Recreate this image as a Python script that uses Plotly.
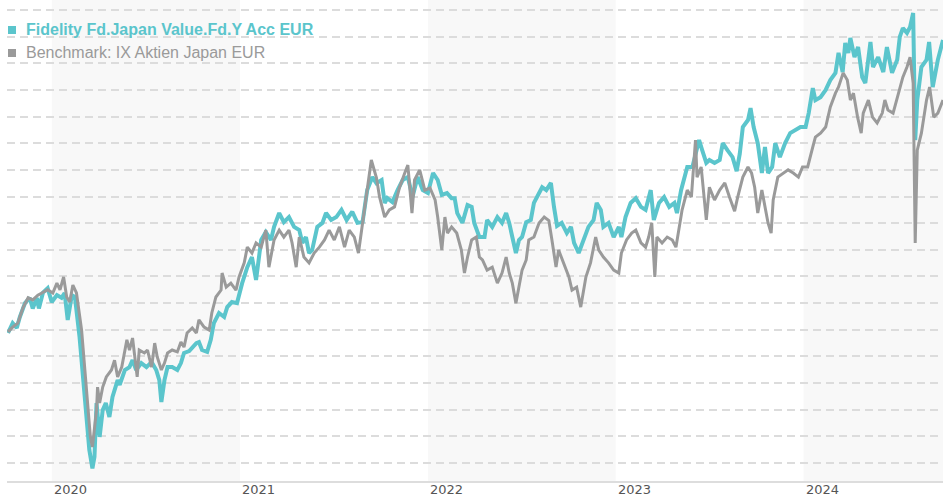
import plotly.graph_objects as go

# ---------------- data (indexed performance) ----------------
fund_name = "Fidelity Fd.Japan Value.Fd.Y Acc EUR"
bench_name = "Benchmark: IX Aktien Japan EUR"

fund_dates = [
    "2019-10-08", "2019-10-17", "2019-10-25", "2019-10-31", "2019-11-10", "2019-11-19", "2019-11-25",
    "2019-12-03", "2019-12-07", "2019-12-15", "2019-12-24", "2020-01-01", "2020-01-11", "2020-01-20",
    "2020-01-26", "2020-02-01", "2020-02-09", "2020-02-15", "2020-02-24", "2020-03-01", "2020-03-08",
    "2020-03-14", "2020-03-20", "2020-03-24", "2020-03-28", "2020-04-03", "2020-04-09", "2020-04-15",
    "2020-04-22", "2020-04-28", "2020-05-08", "2020-05-12", "2020-05-22", "2020-05-31", "2020-06-06",
    "2020-06-13", "2020-06-23", "2020-07-03", "2020-07-13", "2020-07-22", "2020-07-28", "2020-08-01",
    "2020-08-07", "2020-08-13", "2020-08-22", "2020-09-01", "2020-09-08", "2020-09-14", "2020-09-24",
    "2020-10-08", "2020-10-13", "2020-10-19", "2020-10-29", "2020-11-05", "2020-11-11", "2020-11-21",
    "2020-12-01", "2020-12-07", "2020-12-16", "2020-12-26", "2021-01-05", "2021-01-15", "2021-01-24",
    "2021-02-01", "2021-02-11", "2021-02-20", "2021-03-02", "2021-03-08", "2021-03-18", "2021-03-27",
    "2021-04-06", "2021-04-16", "2021-04-26", "2021-05-02", "2021-05-09", "2021-05-15", "2021-05-21",
    "2021-05-31", "2021-06-10", "2021-06-17", "2021-06-27", "2021-07-07", "2021-07-17", "2021-07-27",
    "2021-08-07", "2021-08-17", "2021-08-27", "2021-09-05", "2021-09-15", "2021-09-23", "2021-10-03",
    "2021-10-09", "2021-10-14", "2021-10-24", "2021-11-03", "2021-11-13", "2021-11-23", "2021-12-02",
    "2021-12-12", "2021-12-22", "2022-01-01", "2022-01-11", "2022-01-20", "2022-01-28", "2022-02-07",
    "2022-02-16", "2022-02-22", "2022-02-27", "2022-03-09", "2022-03-19", "2022-03-27", "2022-04-01",
    "2022-04-11", "2022-04-21", "2022-04-26", "2022-05-06", "2022-05-16", "2022-05-25", "2022-06-02",
    "2022-06-08", "2022-06-14", "2022-06-21", "2022-06-27", "2022-07-03", "2022-07-11", "2022-07-20",
    "2022-07-26", "2022-08-01", "2022-08-11", "2022-08-19", "2022-08-28", "2022-09-03", "2022-09-09",
    "2022-09-18", "2022-09-28", "2022-10-06", "2022-10-12", "2022-10-21", "2022-10-31", "2022-11-09",
    "2022-11-19", "2022-11-25", "2022-12-03", "2022-12-08", "2022-12-18", "2022-12-28", "2023-01-07",
    "2023-01-12", "2023-01-20", "2023-01-30", "2023-02-09", "2023-02-19", "2023-02-28", "2023-03-10",
    "2023-03-16", "2023-03-26", "2023-04-05", "2023-04-15", "2023-04-25", "2023-04-30", "2023-05-08",
    "2023-05-14", "2023-05-20", "2023-05-30", "2023-06-07", "2023-06-12", "2023-06-18", "2023-06-26",
    "2023-07-02", "2023-07-12", "2023-07-22", "2023-07-28", "2023-08-06", "2023-08-16", "2023-08-24",
    "2023-08-30", "2023-09-05", "2023-09-15", "2023-09-20", "2023-09-26", "2023-10-04", "2023-10-12",
    "2023-10-18", "2023-10-24", "2023-11-01", "2023-11-07", "2023-11-16", "2023-11-26", "2023-12-06",
    "2023-12-16", "2023-12-26", "2024-01-05", "2024-01-11", "2024-01-19", "2024-01-24", "2024-02-03",
    "2024-02-13", "2024-02-22", "2024-03-03", "2024-03-09", "2024-03-17", "2024-03-22", "2024-03-28",
    "2024-04-01", "2024-04-09", "2024-04-16", "2024-04-24", "2024-04-30", "2024-05-10", "2024-05-15",
    "2024-05-25", "2024-06-04", "2024-06-11", "2024-06-21", "2024-07-01", "2024-07-06", "2024-07-12",
    "2024-07-20", "2024-07-26", "2024-08-01", "2024-08-03", "2024-08-05", "2024-08-09", "2024-08-17",
    "2024-08-27", "2024-09-01", "2024-09-08", "2024-09-18", "2024-09-28",
]
fund_values = [
    98.8, 102.5, 100.7, 104.8, 110.0, 112.0, 108.0,
    112.0, 108.0, 114.0, 115.6, 110.4, 113.0, 112.0,
    113.8, 103.7, 113.0, 112.3, 97.3, 84.9, 69.9,
    54.9, 48.0, 52.3, 72.5, 59.8, 69.9, 72.5,
    67.3, 74.8, 81.1, 79.3, 84.9, 86.0, 88.6,
    84.9, 87.5, 86.0, 87.9, 84.9, 81.1, 72.9,
    81.1, 86.0, 86.0, 84.9, 87.5, 91.3, 92.0,
    95.0, 95.4, 92.4, 91.7, 96.2, 102.5, 106.3,
    104.8, 108.5, 110.4, 110.0, 117.5, 123.5, 127.3,
    118.7, 133.7, 136.7, 133.7, 138.6, 143.8, 140.4,
    142.3, 138.6, 137.4, 132.6, 134.8, 128.8, 129.9,
    138.6, 140.1, 143.8, 141.2, 142.3, 145.0, 141.2,
    144.3, 140.1, 140.4, 152.4, 157.3, 155.0, 156.2,
    147.6, 149.4, 147.9, 152.4, 156.2, 157.3, 149.8,
    157.3, 152.4, 151.3, 158.8, 156.2, 150.6, 151.3,
    149.4, 149.4, 143.8, 140.1, 146.8, 146.1, 140.1,
    134.8, 134.8, 141.2, 138.6, 142.3, 140.1, 143.8,
    140.1, 134.8, 128.8, 133.7, 134.8, 140.4, 141.2,
    147.6, 149.8, 153.5, 152.4, 155.1, 146.1, 139.0,
    140.1, 136.3, 138.6, 132.6, 128.8, 133.7, 138.6,
    141.2, 147.6, 145.0, 138.6, 140.1, 134.8, 138.6,
    134.8, 142.3, 147.6, 149.4, 146.1, 145.0, 152.4,
    141.2, 147.6, 149.8, 146.1, 147.6, 143.8, 152.4,
    156.2, 161.1, 161.1, 167.4, 171.2, 167.4, 162.6,
    163.7, 162.6, 163.7, 170.0, 167.4, 164.8, 159.5,
    166.0, 176.1, 178.7, 183.2, 176.1, 170.0, 158.8,
    168.6, 158.8, 161.1, 170.0, 164.8, 170.0, 173.8,
    174.9, 176.1, 176.1, 181.3, 190.7, 186.2, 187.3,
    190.0, 193.7, 196.4, 203.9, 196.7, 207.6, 203.9,
    209.5, 202.3, 206.1, 194.8, 192.6, 208.0, 198.6,
    202.3, 196.7, 206.1, 196.4, 201.3, 209.9, 213.2,
    211.4, 213.6, 218.9, 198.6, 171.2, 186.2, 198.6,
    201.3, 208.0, 191.1, 201.3, 208.7,
]

bench_dates = [
    "2019-10-08", "2019-10-17", "2019-10-27", "2019-11-06", "2019-11-16", "2019-11-25", "2019-12-05",
    "2019-12-15", "2019-12-24", "2020-01-03", "2020-01-11", "2020-01-17", "2020-01-24", "2020-01-30",
    "2020-02-05", "2020-02-11", "2020-02-18", "2020-02-28", "2020-03-04", "2020-03-10", "2020-03-16",
    "2020-03-20", "2020-03-28", "2020-03-30", "2020-04-03", "2020-04-09", "2020-04-16", "2020-04-26",
    "2020-05-02", "2020-05-08", "2020-05-16", "2020-05-26", "2020-05-31", "2020-06-06", "2020-06-15",
    "2020-06-19", "2020-06-29", "2020-07-05", "2020-07-13", "2020-07-19", "2020-07-24", "2020-08-01",
    "2020-08-07", "2020-08-13", "2020-08-22", "2020-09-01", "2020-09-08", "2020-09-14", "2020-09-20",
    "2020-09-30", "2020-10-08", "2020-10-13", "2020-10-23", "2020-11-02", "2020-11-07", "2020-11-15",
    "2020-11-25", "2020-11-27", "2020-12-05", "2020-12-14", "2020-12-24", "2020-12-30", "2021-01-09",
    "2021-01-15", "2021-01-24", "2021-02-01", "2021-02-11", "2021-02-20", "2021-02-26", "2021-03-08",
    "2021-03-18", "2021-03-27", "2021-04-06", "2021-04-12", "2021-04-20", "2021-04-26", "2021-05-05",
    "2021-05-15", "2021-05-25", "2021-06-04", "2021-06-14", "2021-06-23", "2021-07-03", "2021-07-13",
    "2021-07-23", "2021-08-01", "2021-08-11", "2021-08-19", "2021-08-27", "2021-09-05", "2021-09-13",
    "2021-09-23", "2021-09-29", "2021-10-09", "2021-10-18", "2021-10-28", "2021-11-07", "2021-11-17",
    "2021-11-23", "2021-12-01", "2021-12-06", "2021-12-16", "2021-12-26", "2022-01-05", "2022-01-15",
    "2022-01-20", "2022-01-28", "2022-02-03", "2022-02-08", "2022-02-16", "2022-02-26", "2022-03-07",
    "2022-03-13", "2022-03-19", "2022-03-27", "2022-04-05", "2022-04-11", "2022-04-17", "2022-04-26",
    "2022-05-06", "2022-05-16", "2022-05-25", "2022-06-02", "2022-06-08", "2022-06-14", "2022-06-21",
    "2022-06-27", "2022-07-03", "2022-07-11", "2022-07-16", "2022-07-26", "2022-08-05", "2022-08-15",
    "2022-08-24", "2022-08-30", "2022-09-03", "2022-09-07", "2022-09-12", "2022-09-22", "2022-10-02",
    "2022-10-08", "2022-10-17", "2022-10-25", "2022-11-04", "2022-11-13", "2022-11-23", "2022-11-29",
    "2022-12-08", "2022-12-18", "2022-12-28", "2023-01-07", "2023-01-12", "2023-01-22", "2023-02-01",
    "2023-02-09", "2023-02-19", "2023-02-28", "2023-03-06", "2023-03-12", "2023-03-18", "2023-03-22",
    "2023-04-01", "2023-04-11", "2023-04-21", "2023-04-28", "2023-05-04", "2023-05-10", "2023-05-20",
    "2023-05-28", "2023-06-05", "2023-06-08", "2023-06-16", "2023-06-26", "2023-07-02", "2023-07-12",
    "2023-07-22", "2023-08-01", "2023-08-10", "2023-08-20", "2023-08-26", "2023-09-05", "2023-09-15",
    "2023-09-22", "2023-09-28", "2023-10-04", "2023-10-12", "2023-10-18", "2023-10-24", "2023-10-30",
    "2023-11-03", "2023-11-12", "2023-11-22", "2023-12-02", "2023-12-12", "2023-12-22", "2023-12-30",
    "2024-01-09", "2024-01-19", "2024-01-24", "2024-02-03", "2024-02-13", "2024-02-22", "2024-03-03",
    "2024-03-09", "2024-03-18", "2024-03-26", "2024-04-01", "2024-04-07", "2024-04-15", "2024-04-22",
    "2024-04-26", "2024-05-06", "2024-05-14", "2024-05-23", "2024-06-02", "2024-06-07", "2024-06-13",
    "2024-06-23", "2024-07-01", "2024-07-06", "2024-07-12", "2024-07-20", "2024-07-26", "2024-08-01",
    "2024-08-03", "2024-08-05", "2024-08-09", "2024-08-17", "2024-08-27", "2024-09-02", "2024-09-10",
    "2024-09-18", "2024-09-28",
]
bench_values = [
    99.2, 101.0, 102.5, 108.2, 112.0, 111.2, 113.0,
    114.0, 115.0, 113.8, 117.5, 115.0, 119.8, 112.3,
    110.4, 116.8, 113.8, 99.9, 87.5, 72.5, 59.8,
    56.0, 69.9, 78.5, 72.5, 78.5, 82.3, 84.9,
    88.6, 82.3, 86.0, 96.2, 92.4, 96.9, 82.3,
    92.4, 91.3, 92.4, 86.0, 95.0, 89.8, 84.9,
    87.5, 91.3, 92.4, 91.7, 95.4, 93.5, 98.8,
    100.7, 98.8, 103.7, 101.0, 99.9, 106.3, 112.3,
    114.9, 121.3, 116.0, 117.5, 114.9, 119.8, 125.1,
    131.0, 128.8, 132.6, 131.0, 137.4, 123.5, 133.7,
    137.4, 134.8, 137.4, 132.6, 123.5, 134.8, 127.3,
    125.1, 128.8, 131.0, 133.7, 137.4, 133.7, 138.6,
    131.0, 137.4, 134.8, 128.8, 140.1, 152.4, 163.7,
    157.0, 149.8, 142.3, 145.0, 146.1, 153.5, 158.8,
    161.8, 143.8, 156.2, 160.0, 152.4, 153.2, 148.7,
    142.3, 129.9, 142.3, 136.3, 138.6, 136.3, 129.9,
    121.3, 127.3, 133.7, 134.8, 127.3, 126.2, 122.4,
    123.5, 117.5, 121.3, 127.3, 121.3, 117.5, 110.0,
    116.0, 122.4, 126.2, 133.7, 134.8, 140.1, 142.3,
    141.0, 133.7, 128.8, 123.5, 129.9, 125.1, 119.8,
    114.9, 116.0, 108.5, 119.8, 125.1, 134.8, 129.9,
    127.3, 125.1, 122.4, 121.3, 128.8, 133.7, 136.3,
    137.4, 132.6, 131.0, 134.8, 140.1, 119.8, 134.8,
    132.6, 134.8, 133.7, 131.0, 138.6, 145.0, 152.4,
    149.8, 171.2, 157.3, 161.1, 141.2, 153.5, 148.7,
    152.4, 155.1, 149.8, 144.5, 149.8, 157.3, 161.1,
    158.8, 153.5, 143.8, 152.4, 146.1, 140.1, 136.3,
    148.7, 157.3, 158.8, 160.0, 158.8, 157.3, 161.1,
    161.1, 168.6, 172.3, 173.8, 176.1, 183.6, 188.8,
    191.1, 196.4, 193.7, 186.2, 188.8, 179.8, 173.8,
    181.3, 186.2, 179.8, 177.6, 181.3, 186.2, 182.5,
    181.3, 187.3, 191.1, 194.8, 198.6, 202.3, 192.6,
    161.1, 132.6, 167.4, 173.8, 186.2, 191.1, 179.8,
    181.3, 186.2,
]

year_starts = ["2020-01-01", "2021-01-01", "2022-01-01", "2023-01-01", "2024-01-01"]
year_labels = ["2020", "2021", "2022", "2023", "2024"]
shaded_years = [("2020-01-01", "2021-01-01"), ("2022-01-01", "2023-01-01"), ("2024-01-01", "2025-01-01")]
grid_values = list(range(50, 221, 10))

TEAL = "#5bc5cc"
GRAY = "#9a9a9a"

fig = go.Figure()
fig.add_trace(go.Scatter(x=fund_dates, y=fund_values, mode="lines", name=fund_name,
                         line=dict(color=TEAL, width=4), showlegend=False, hoverinfo="skip"))
fig.add_trace(go.Scatter(x=bench_dates, y=bench_values, mode="lines", name=bench_name,
                         line=dict(color=GRAY, width=3), showlegend=False, hoverinfo="skip"))

shapes = []
for a, b in shaded_years:
    shapes.append(dict(type="rect", xref="x", yref="paper", x0=a, x1=b, y0=0, y1=1,
                       fillcolor="#f8f8f8", line=dict(width=0), layer="below"))
# legend squares
for i, col in enumerate([TEAL, GRAY]):
    shapes.append(dict(type="rect", xref="paper", yref="paper", xsizemode="pixel", ysizemode="pixel",
                       xanchor=0, yanchor=1, x0=1, x1=9, y0=-26 - 23 * i, y1=-34 - 23 * i,
                       fillcolor=col, line=dict(width=0), layer="above"))

annotations = []
for d, t in zip(year_starts, year_labels):
    annotations.append(dict(x=d, xref="x", y=0, yref="paper", text=t, showarrow=False,
                            xanchor="left", yanchor="top", xshift=0, yshift=1,
                            font=dict(family="DejaVu Sans", size=13, color="#555555")))
annotations.append(dict(x=0, xref="paper", y=1, yref="paper", text="<b>" + fund_name + "</b>",
                        showarrow=False, xanchor="left", yanchor="middle", xshift=17, yshift=-29,
                        font=dict(family="Liberation Sans, Arial", size=16, color=TEAL)))
annotations.append(dict(x=0, xref="paper", y=1, yref="paper", text=bench_name,
                        showarrow=False, xanchor="left", yanchor="middle", xshift=17, yshift=-52,
                        font=dict(family="Liberation Sans, Arial", size=16, color="#9a9a9a")))

fig.update_layout(
    width=943, height=500,
    margin=dict(l=7, r=0, t=0, b=19),
    paper_bgcolor="white", plot_bgcolor="white",
    shapes=shapes, annotations=annotations,
    showlegend=False,
    xaxis=dict(type="date", range=["2019-10-06", "2024-09-28"], showgrid=False, zeroline=False,
               showticklabels=False, ticks="", showline=True, linecolor="#dddddd", linewidth=2),
    yaxis=dict(range=[43.25, 223.75], tickmode="array", tickvals=grid_values, showticklabels=False,
               ticks="", showgrid=True, gridcolor="#dcdcdc", gridwidth=1.5, griddash="8px,5px",
               zeroline=False, showline=False),
)

fig.write_html("out.html", config={"displayModeBar": False},
               post_script="document.body.style.margin='0';document.body.style.overflow='hidden';")
